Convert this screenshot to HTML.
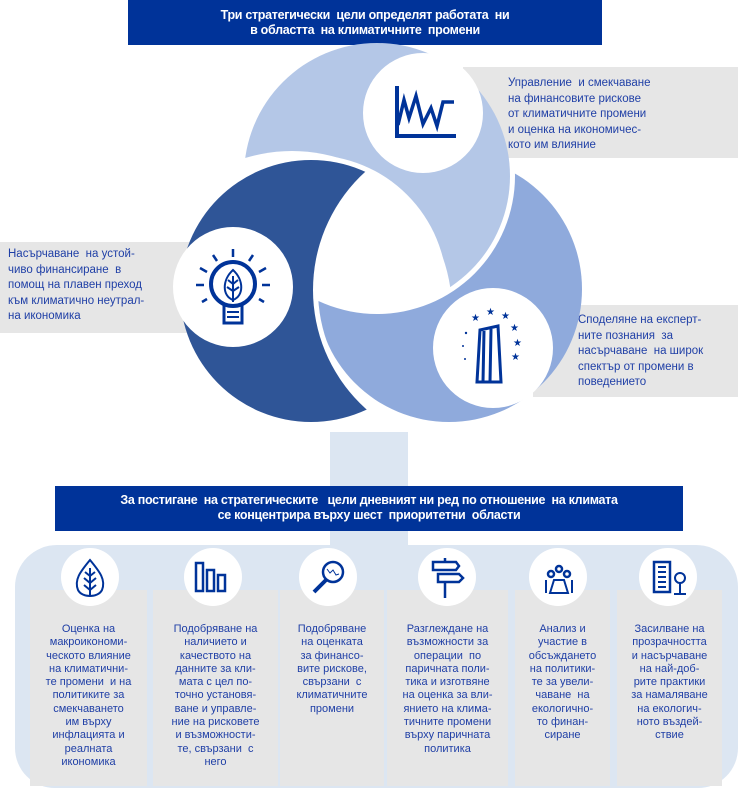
<!DOCTYPE html>
<html><head><meta charset="utf-8"><style>
*{margin:0;padding:0;box-sizing:border-box}
body{width:738px;height:794px;background:#fff;position:relative;overflow:hidden;font-family:"Liberation Sans",sans-serif;color:#1a3a9c}
.abs{position:absolute}
.banner{background:#003399;color:#fff;font-weight:bold;font-size:12.5px;text-align:center;line-height:15px;letter-spacing:-0.3px}
.gbox{background:#e6e6e6}
.t{font-size:11.5px;line-height:15.5px;color:#1f3fa6}
.col{position:absolute;top:590px;height:196px;background:#e6e6e6;text-align:center;font-size:11px;line-height:13.3px;color:#1f3fa6;padding-top:33px}
.ic{position:absolute;top:548px;width:58px;height:58px;border-radius:50%;background:#fff}
</style></head><body>
<div class="abs banner" style="left:128px;top:0;width:474px;height:45px;padding-top:8px">Три стратегически &nbsp;цели определят работата &nbsp;ни<br>в областта &nbsp;на климатичните &nbsp;промени</div>

<div class="abs gbox" style="left:463px;top:67px;width:275px;height:91px"></div>
<div class="abs t" style="left:508px;top:76px">Управление &nbsp;и смекчаване<br>на финансовите рискове<br>от климатичните промени<br>и оценка на икономичес-<br>кото им влияние</div>
<div class="abs gbox" style="left:0;top:242px;width:200px;height:91px"></div>
<div class="abs t" style="left:8px;top:247px">Насърчаване &nbsp;на устой-<br>чиво финансиране &nbsp;в<br>помощ на плавен преход<br>към климатично неутрал-<br>на икономика</div>
<div class="abs gbox" style="left:533px;top:305px;width:205px;height:92px"></div>
<div class="abs t" style="left:578px;top:313px">Споделяне на експерт-<br>ните познания &nbsp;за<br>насърчаване &nbsp;на широк<br>спектър от промени в<br>поведението</div>

<svg class="abs" style="left:0;top:0" width="738" height="440">
<defs>
<mask id="mL"><rect width="738" height="440" fill="#fff"/><circle cx="292" cy="311" r="160" fill="#000"/><circle cx="311" cy="291" r="136" fill="#000"/></mask>
<mask id="mD"><rect width="738" height="440" fill="#fff"/><circle cx="473" cy="290" r="160" fill="#000"/></mask>
<mask id="mM"><rect width="738" height="440" fill="#000"/><circle cx="473" cy="290" r="155" fill="#fff"/><circle cx="377" cy="176" r="138" fill="#000"/></mask>
</defs>
<circle cx="377" cy="176" r="133" fill="#b4c7e7" mask="url(#mL)"/>
<circle cx="311" cy="291" r="131" fill="#2f5597" mask="url(#mD)"/>
<circle cx="449" cy="289" r="133" fill="#8faadc" mask="url(#mM)"/>
<circle cx="423" cy="113" r="60" fill="#fff"/>
<circle cx="233" cy="287" r="60" fill="#fff"/>
<circle cx="493" cy="348" r="60" fill="#fff"/>
<g fill="none" stroke="#003399" stroke-width="4">
<path d="M397,86 V136 H456"/>
<path d="M398,125 L404,100 L409,118 L416,96 L423,124 L431,108 L437,126 L443,102 L454,102" stroke-width="3.5"/>
<circle cx="233" cy="284" r="22" stroke-width="4"/>
<path d="M224,305 V323 H242 V305" stroke-width="3"/>
<path d="M227,312 H239 M227,317 H239" stroke-width="2"/>
<path d="M233,270 C222,280 222,296 233,300 C244,296 244,280 233,270Z M233,276 V302 M233,284 L228,280 M233,284 L238,280 M233,291 L227,287 M233,291 L239,287" stroke-width="2"/>
<path d="M233,249 V257 M213,255 L217,261 M253,255 L249,261 M200,268 L207,272 M266,268 L259,272 M196,285 H204 M262,285 H270 M202,302 L207,299 M264,302 L259,299" stroke-width="2.5"/>
<path d="M477,382 L480,330 L498,326 L501,382Z M484,331 L483,382 M491,329 L490,382" stroke-width="3"/>
</g>
<g fill="#003399" font-size="10" font-family="Liberation Sans">
<text x="471" y="321">★</text><text x="486" y="315">★</text><text x="501" y="319">★</text><text x="510" y="331">★</text><text x="513" y="346">★</text><text x="511" y="360">★</text>
<circle cx="466" cy="333" r="1.2"/><circle cx="463" cy="346" r="1"/><circle cx="465" cy="359" r="1"/>
</g>
</svg>

<div class="abs" style="left:330px;top:432px;width:78px;height:120px;background:#dce6f2"></div>
<div class="abs banner" style="left:55px;top:486px;width:628px;height:45px;padding-top:7px">За постигане &nbsp;на стратегическите &nbsp;&nbsp;цели дневният ни ред по отношение &nbsp;на климата<br>се концентрира върху шест &nbsp;приоритетни &nbsp;области</div>
<div class="abs" style="left:15px;top:545px;width:723px;height:243px;background:#dce6f2;border-radius:42px 42px 40px 40px"></div>
<div class="abs" style="left:0;top:531px;width:330px;height:14px;background:#fff"></div>
<div class="abs" style="left:408px;top:531px;width:330px;height:14px;background:#fff"></div>

<div class="col" style="left:30px;width:117px">Оценка на<br>макроикономи-<br>ческото влияние<br>на климатични-<br>те промени &nbsp;и на<br>политиките за<br>смекчаването<br>им върху<br>инфлацията и<br>реалната<br>икономика</div>
<div class="col" style="left:153px;width:125px">Подобряване на<br>наличието и<br>качеството на<br>данните за кли-<br>мата с цел по-<br>точно установя-<br>ване и управле-<br>ние на рисковете<br>и възможности-<br>те, свързани &nbsp;с<br>него</div>
<div class="col" style="left:280px;width:104px">Подобряване<br>на оценката<br>за финансо-<br>вите рискове,<br>свързани &nbsp;с<br>климатичните<br>промени</div>
<div class="col" style="left:387px;width:121px">Разглеждане на<br>възможности за<br>операции &nbsp;по<br>паричната поли-<br>тика и изготвяне<br>на оценка за вли-<br>янието на клима-<br>тичните промени<br>върху паричната<br>политика</div>
<div class="col" style="left:515px;width:95px">Анализ и<br>участие в<br>обсъждането<br>на политики-<br>те за увели-<br>чаване &nbsp;на<br>екологично-<br>то финан-<br>сиране</div>
<div class="col" style="left:617px;width:105px">Засилване на<br>прозрачността<br>и насърчаване<br>на най-доб-<br>рите практики<br>за намаляване<br>на екологич-<br>ното въздей-<br>ствие</div>

<div class="ic" style="left:61px"></div><div class="ic" style="left:184px"></div><div class="ic" style="left:299px"></div>
<div class="ic" style="left:418px"></div><div class="ic" style="left:529px"></div><div class="ic" style="left:639px"></div>
<svg class="abs" style="left:0;top:540px" width="738" height="70">
<g fill="none" stroke="#003399" stroke-width="2.5">
<path d="M90,20 C80,32 74,40 78,50 C82,58 98,58 102,50 C106,40 100,32 90,20Z M90,28 V56 M90,36 L85,32 M90,36 L95,32 M90,43 L84,38 M90,43 L96,38 M90,50 L84,45 M90,50 L96,45" stroke-width="2"/>
<rect x="196" y="23" width="7" height="28"/><rect x="207" y="30" width="7" height="21"/><rect x="218" y="35" width="7" height="16"/>
<circle cx="333" cy="32" r="10"/><path d="M326,40 L314,52" stroke-width="4"/><path d="M327,29 L330,33 L333,30 L336,35 L339,34" stroke-width="1"/>
<path d="M445,18 V22 M445,43 V58 M433,22 H456 L459,26 L456,30 H433 Z M438,34 H459 L463,38 L459,42 H438 Z" stroke-width="2.5"/>
<circle cx="551" cy="34" r="3"/><circle cx="559" cy="29" r="3"/><circle cx="567" cy="34" r="3"/><path d="M550,53 L554,40 H564 L568,53 Z M546,40 V53 M572,40 V53" stroke-width="2"/>
<rect x="654" y="22" width="16" height="30"/><path d="M658,27 H666 M658,32 H666 M658,37 H666 M658,42 H666 M658,47 H666" stroke-width="2"/>
<circle cx="680" cy="38" r="5" stroke-width="2"/><path d="M680,43 V53 M674,54 H686" stroke-width="2"/>
</g></svg>
</body></html>
